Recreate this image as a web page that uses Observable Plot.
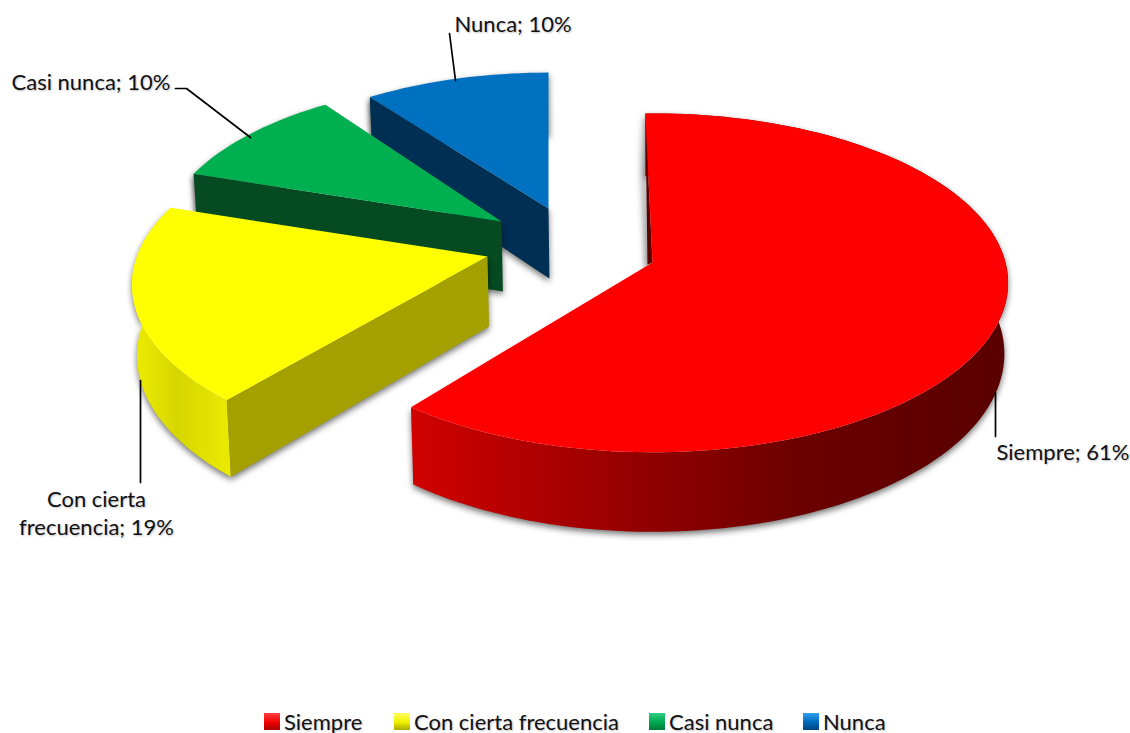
<!DOCTYPE html>
<html lang="es"><head><meta charset="utf-8">
<script src="https://cdn.jsdelivr.net/npm/d3@7"></script>
<script src="https://cdn.jsdelivr.net/npm/@observablehq/plot@0.6"></script>
<style>
html,body{margin:0;padding:0;background:#fff;overflow:hidden}
svg{display:block}
.shadow{filter:blur(3px)}
.etiqueta text{text-shadow:1px 1px 2px rgba(0,0,0,.25)}
#legend{display:flex;height:28px;align-items:center;font:22px Lato,sans-serif;color:#111;text-shadow:1px 1px 2px rgba(0,0,0,.25)}
#legend span.s{width:16px;height:17px;margin-right:4px;box-sizing:border-box;display:inline-block}
#legend div{display:flex;align-items:center;position:absolute;top:708px}
</style></head><body>
<div id="chart"></div><div id="legend"></div>
<script>
// ---- data ----
const categories = ["Siempre", "Con cierta frecuencia", "Casi nunca", "Nunca"];
const shares = [61, 19, 10, 10];
// ---- styles ----
const topColors = ["#ff0000", "#ffff00", "#00b050", "#0070c0"];
const radialColors = ["#5c0000", "#a3a000", "#054a20", "#002f54"];
const curveFills = ["url(#redWall)", "url(#yellowWall)", "#054a20", "#002f54"];
const swatchCss = [
  "linear-gradient(180deg,#ff4040,#f00000 55%,#a80000)",
  "linear-gradient(180deg,#ffff60,#f0f000 55%,#aaa800)",
  "linear-gradient(180deg,#30d080,#00a850 55%,#007a38)",
  "linear-gradient(180deg,#30a0f0,#0068b8 55%,#00467f)"
];
// ---- layout of the exploded projection ----
const W = 1130, H = 705;
const apexX = [652, 487, 501, 548], apexY = [262, 256, 221, 208];
const arcShiftY = [0, 8, 3, 5];
const scales3d = [1, 1, 0.96, 0.945];
const rotations = [-1.3, 2.7, 1.2, 0];
const R = 353, A = 167, persp = 0.12, depth = 70, inward = 0.01, midX = 640;
// ---- label layout ----
const labelsStart = [
  {t: `${categories[0]}; ${shares[0]}%`, x: 996, y: 452},
  {t: `${categories[2]}; ${shares[2]}%`, x: 11, y: 82},
  {t: `${categories[3]}; ${shares[3]}%`, x: 454, y: 24}
];
const labelsMiddle = [
  {t: "Con cierta", x: 96, y: 499},
  {t: `frecuencia; ${shares[1]}%`, x: 96, y: 527}
];
const leaders = [
  [[995, 392], [995, 436]],
  [[140, 380], [140, 482]],
  [[175, 88], [186, 88], [250, 137]],
  [[455, 80], [449, 33]]
];

const total = d3.sum(shares);
const cum = d3.cumsum(shares);
function project(i, deg) {
  const t = deg * Math.PI / 180, u = Math.sin(t), v = Math.cos(t), w = 1 + persp * v;
  return {x: apexX[i] + scales3d[i] * R * u / w, y: apexY[i] + arcShiftY[i] - scales3d[i] * A * v / w, d: depth / w};
}
const lower = p => ({x: p.x + (midX - p.x) * inward, y: p.y + p.d});
const polys = [], walls = [], radials = [];
let hiddenCut = [];
shares.forEach((s, i) => {
  const a0 = (cum[i] - s) / total * 360 + rotations[i], a1 = a0 + s / total * 360;
  const n = Math.ceil(s * 2);
  const arc = d3.range(n + 1).map(k => project(i, a0 + (a1 - a0) * k / n));
  const apex = {x: apexX[i], y: apexY[i], d: depth};
  polys[i] = [apex, ...arc];
  walls[i] = [...arc, ...arc.slice().reverse().map(lower)];
  // the radial cut that faces the viewer starts each slice's arc
  if (i === 0) {
    radials[i] = [arc[0], apex, {x: apex.x - 5, y: apex.y + 2}];
    hiddenCut = [arc[0], lower(arc[0]), lower(apex), apex];
  } else radials[i] = [apex, arc[0], lower(arc[0]), lower(apex)];
});

function defs() {
  const d = d3.create("svg:defs");
  const grad = (id, x1, x2, stops) => {
    const g = d.append("linearGradient").attr("id", id).attr("gradientUnits", "userSpaceOnUse")
      .attr("x1", x1).attr("x2", x2).attr("y1", 0).attr("y2", 0);
    stops.forEach(([o, c]) => g.append("stop").attr("offset", o).attr("stop-color", c));
  };
  grad("redWall", 413, 1005, [[0, "#d00000"], [0.35, "#980000"], [0.65, "#6c0000"], [0.85, "#600000"], [1, "#5a0000"]]);
  grad("yellowWall", 130, 235, [[0, "#eeee00"], [0.45, "#d6d600"], [1, "#ecec00"]]);
  return d.node();
}

const marks = [defs];
const piece = (pts, fill, extra = {}) => Plot.line(pts, {x: "x", y: "y", fill, stroke: "none", curve: "linear", ...extra});
for (const i of [3, 2, 1, 0]) {
  if (i === 0) marks.push(piece(hiddenCut, "#000", {fillOpacity: 0.4, dx: -4, className: "shadow"}));
  marks.push(piece(walls[i], "#000", {fillOpacity: 0.55, dy: 3, className: "shadow"}));
  marks.push(piece(radials[i], "#000", {fillOpacity: 0.55, dy: 3, className: "shadow"}));
  if (i < 2) marks.push(piece(walls[i], curveFills[i]));
  marks.push(piece(radials[i], radialColors[i]));
  marks.push(piece(polys[i], topColors[i]));
}
leaders.forEach(l => marks.push(Plot.line(l.map(([x, y]) => ({x, y})), {x: "x", y: "y", stroke: "#000", strokeWidth: 1.7, curve: "linear"})));
const textStyle = {x: "x", y: "y", text: "t", fontSize: 22, fontFamily: "Lato", fill: "#111", className: "etiqueta"};
marks.push(Plot.text(labelsStart, {...textStyle, textAnchor: "start"}));
marks.push(Plot.text(labelsMiddle, {...textStyle, textAnchor: "middle"}));

const chart = Plot.plot({
  width: W, height: H, margin: 0,
  x: {domain: [0, W], range: [0, W], axis: null},
  y: {domain: [0, H], range: [0, H], axis: null},
  marks
});
document.getElementById("chart").append(chart);

const legendX = [264, 394, 649, 803];
const lg = d3.select("#legend");
categories.forEach((c, i) => {
  const item = lg.append("div").style("left", legendX[i] + "px");
  item.append("span").attr("class", "s").style("background", swatchCss[i]);
  item.append("span").text(c);
});
</script></body></html>
